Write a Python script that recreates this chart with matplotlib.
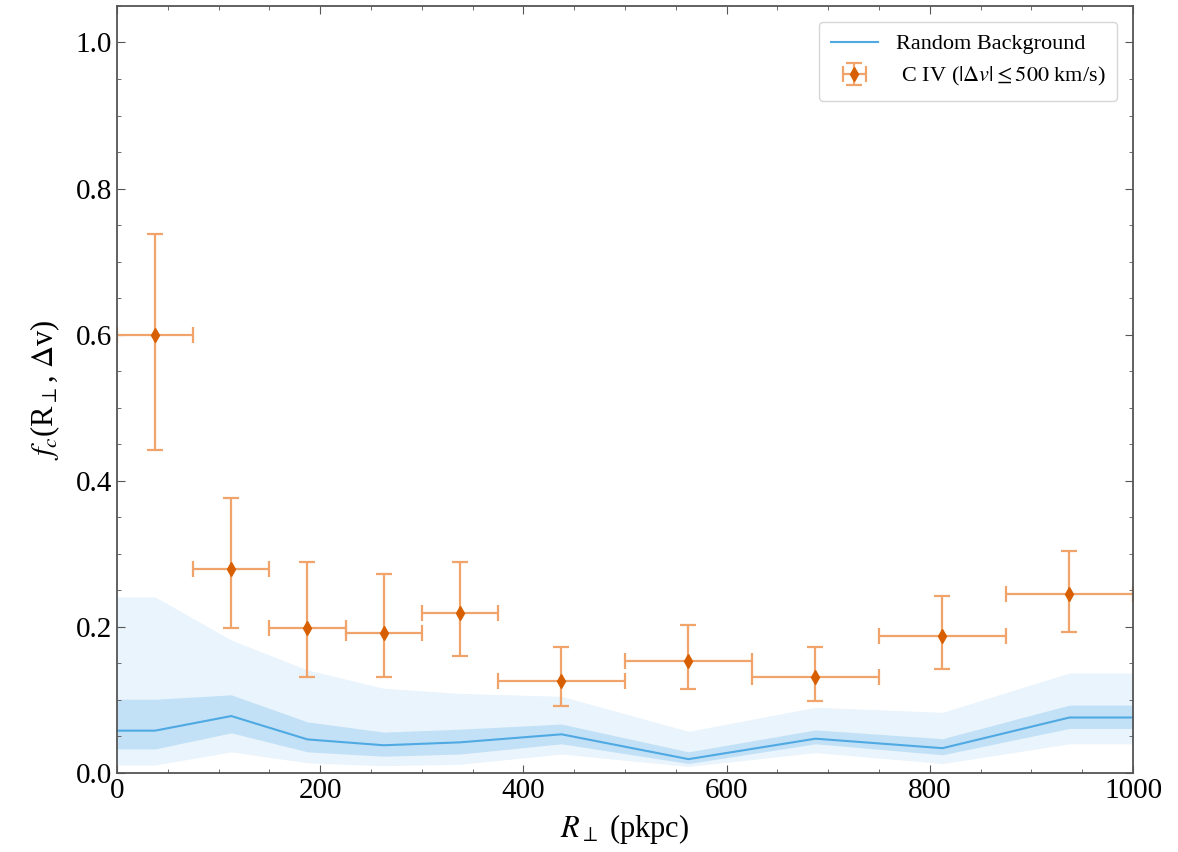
import numpy as np
import matplotlib
matplotlib.use("Agg")
import matplotlib.pyplot as plt
from matplotlib.ticker import MultipleLocator

plt.rcParams['font.family'] = ['Liberation Serif', 'DejaVu Serif']
plt.rcParams['mathtext.fontset'] = 'stix'

# ---- data ----
# C IV covering fraction per R_perp bin
r_lo = [0, 75, 150, 225, 300, 375, 500, 625, 750, 875]
r_hi = [75, 150, 225, 300, 375, 500, 625, 750, 875, 1000]
fc = [0.600, 0.279, 0.199, 0.192, 0.219, 0.126, 0.154, 0.131, 0.188, 0.245]
fc_up = [0.738, 0.376, 0.289, 0.273, 0.289, 0.173, 0.202, 0.173, 0.242, 0.304]
fc_dn = [0.442, 0.199, 0.131, 0.131, 0.160, 0.092, 0.115, 0.098, 0.143, 0.193]

# random background (median, 1 sigma, 2 sigma) at band nodes
bg_r = [0, 37.5, 112.5, 187.5, 262.5, 337.5, 437.5, 562.5, 687.5, 812.5, 937.5, 1000]
bg_med = [0.058, 0.058, 0.078, 0.046, 0.038, 0.042, 0.053, 0.019, 0.047, 0.034, 0.076, 0.076]
bg_1up = [0.101, 0.101, 0.107, 0.070, 0.056, 0.060, 0.067, 0.029, 0.059, 0.047, 0.093, 0.093]
bg_1dn = [0.033, 0.033, 0.055, 0.029, 0.023, 0.026, 0.040, 0.013, 0.040, 0.025, 0.061, 0.061]
bg_2up = [0.241, 0.241, 0.182, 0.141, 0.116, 0.109, 0.105, 0.057, 0.090, 0.083, 0.137, 0.137]
bg_2dn = [0.011, 0.011, 0.029, 0.014, 0.010, 0.012, 0.026, 0.009, 0.028, 0.013, 0.040, 0.040]

r_lo = np.array(r_lo)
r_hi = np.array(r_hi)
r_mid = (r_lo + r_hi) / 2
fc = np.array(fc)

# ---- plot ----
fig = plt.figure(figsize=(11.78, 8.52), dpi=100)
ax = fig.add_axes([0.0993, 0.0927, 0.8625, 0.9003])

ax.fill_between(bg_r, bg_2dn, bg_2up, color='#e9f4fc', lw=0)
ax.fill_between(bg_r, bg_1dn, bg_1up, color='#c3e1f6', lw=0)
ax.plot(bg_r, bg_med, color='#4fa9e3', lw=1.5, label='Random Background')

ax.errorbar(r_mid, fc,
            xerr=[r_mid - r_lo, r_hi - r_mid],
            yerr=[fc - np.array(fc_dn), np.array(fc_up) - fc],
            fmt='d', ms=7.5, color='#e0660f', mec='#d85f00', mfc='#d85f00',
            ecolor='#f0a36a', elinewidth=1.6, capsize=5.5, capthick=1.6,
            label=r' C IV ($|\Delta v| \leq 500$ km/s)')

ax.set_xlim(0, 1000)
ax.set_ylim(0, 1.05)
ax.xaxis.set_major_locator(MultipleLocator(200))
ax.xaxis.set_minor_locator(MultipleLocator(50))
ax.yaxis.set_major_locator(MultipleLocator(0.2))
ax.yaxis.set_minor_locator(MultipleLocator(0.05))
ax.tick_params(which='both', direction='in', top=True, right=True, labelsize=21, color='#555555')
ax.tick_params(which='major', length=6)
ax.tick_params(which='minor', length=3)
for s in ax.spines.values():
    s.set_color('#555555')
    s.set_linewidth(1.3)

ax.set_xlabel(r'$R_\perp$ (pkpc)', fontsize=22, labelpad=6)
ax.set_ylabel(r'$f_c$(R$_\perp$, $\Delta$v)', fontsize=22, labelpad=10)

ax.legend(loc='upper right', fontsize=16, frameon=True, fancybox=True,
          edgecolor='#cccccc', borderpad=0.55, handlelength=2.1,
          borderaxespad=0.7)

fig.savefig('out.png', dpi=100)
